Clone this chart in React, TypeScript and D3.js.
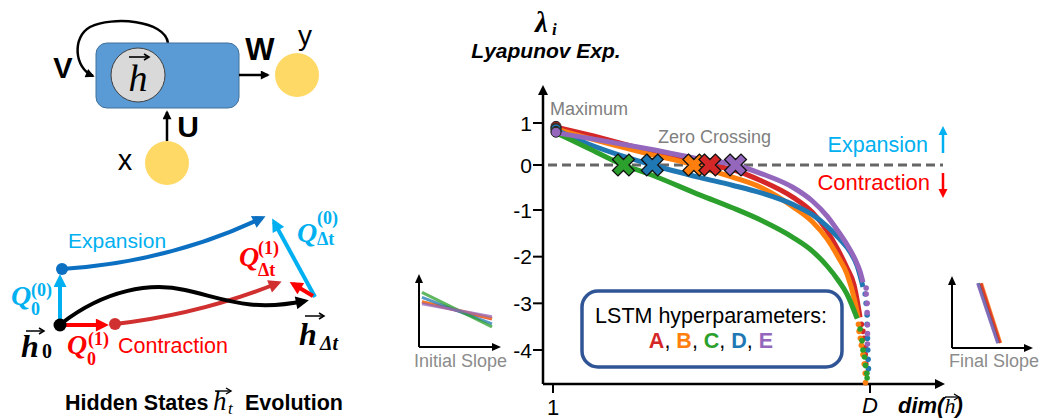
import React from 'react'
import * as d3 from 'd3'

// Lyapunov spectra for the five LSTM hyperparameter sets, [dim, lambda]
const seriesNames = ['A', 'B', 'C', 'D', 'E']
const seriesColors = ['#d62728', '#ff7f0e', '#2ca02c', '#1f77b4', '#9467bd']

const lineA = [[1, 0.92], [12, 0.72], [31, 0.34], [47, 0.07], [50, 0], [57, -0.1], [66, -0.35], [76, -0.72], [82, -1.05], [86.6, -1.45], [90, -1.85], [92.8, -2.24], [95, -2.6], [96.9, -3.3]]
const lineB = [[1, 0.88], [12, 0.64], [31, 0.26], [45, 0], [47, -0.05], [57, -0.27], [66, -0.5], [76, -0.93], [82, -1.25], [86.6, -1.62], [90, -2.0], [92.8, -2.37], [95.3, -2.96], [96.3, -3.3]]
const lineC = [[1, 0.8], [12, 0.4], [23, 0], [31, -0.2], [47, -0.67], [57, -0.95], [66, -1.22], [76, -1.59], [82, -1.88], [86.6, -2.2], [90, -2.5], [92.8, -2.8], [96, -3.33]]
const lineD = [[1, 0.86], [12, 0.5], [32, 0], [47, -0.28], [57, -0.45], [66, -0.62], [76, -0.88], [82, -1.1], [86.6, -1.35], [90.5, -1.62], [93.8, -1.9], [96, -2.2], [97.8, -2.65]]
const lineE = [[1, 0.78], [12, 0.64], [31, 0.38], [47, 0.14], [58, 0], [66, -0.19], [76, -0.5], [82, -0.8], [86.6, -1.13], [90, -1.45], [92.8, -1.74], [95.3, -2.05], [96.9, -2.32], [97.8, -2.55]]

// last exponents, drawn as separate dots
const tailA = [[97.3, -3.45], [97.8, -3.6], [98.1, -3.75], [98.5, -3.95], [98.5, -4.1], [98.7, -4.3], [98.9, -4.5]]
const tailB = [[96.4, -3.45], [96.6, -3.6], [97, -3.75], [97.3, -3.9], [97.8, -4.1], [98.2, -4.3], [98.5, -4.5], [98.6, -4.7]]
const tailC = [[96.9, -3.55], [97.5, -3.8], [97.8, -4.0], [98.3, -4.15], [98.6, -4.33], [99.0, -4.5], [99.1, -4.6]]
const tailD = [[98.5, -2.8], [98.8, -3.0], [99.1, -3.25], [99.1, -3.45], [99.2, -3.75], [99.3, -4.0], [99.4, -4.2], [99.5, -4.4]]
const tailE = [[98.8, -2.67], [98.8, -2.8], [99.1, -3.0], [99.1, -3.2], [99.2, -3.46], [99.2, -3.65], [99.2, -3.87]]

const zeroCrossing = [50, 45, 23, 32, 58]
const yTicks = [1, 0, -1, -2, -3, -4]
const xTicks = [1, 100]
const xTickLabels = ['1', 'D']

// insets: [x0, y0, x1, y1] in unit coordinates
const initialSlope = [[0, 0.625, 1, 0.39], [0, 0.63, 1, 0.4], [0, 0.76, 1, 0.28], [0, 0.69, 1, 0.32], [0, 0.6, 1, 0.42]]
const finalSlope = [[0.36, 0.9, 0.6, 0.07], [0.37, 0.9, 0.61, 0.07], [0.33, 0.9, 0.58, 0.07], [0.325, 0.9, 0.575, 0.07], [0.32, 0.9, 0.57, 0.07]]

const lines = [lineA, lineB, lineC, lineD, lineE]
const tails = [tailA, tailB, tailC, tailD, tailE]
const drawOrder = [0, 1, 3, 2, 4]
const crossOrder = [2, 3, 1, 0, 4]

const SANS = 'Liberation Sans, Arial, sans-serif'
const SERIF = 'Liberation Serif, Times New Roman, serif'
const LBLUE = '#00b0f0'
const DBLUE = '#0b6fc2'
const RED = '#ff0000'
const DRED = '#d0302f'

const markerIds = [['blk', '#000'], ['lb', LBLUE], ['db', DBLUE], ['rd', RED], ['dr', DRED]]

function VecArrow({ x1, x2, y, color = '#000', w = 1.4 }) {
  return (
    <g stroke={color} strokeWidth={w} fill="none">
      <line x1={x1} y1={y} x2={x2} y2={y} />
      <polyline points={`${x2 - 5},${y - 3} ${x2},${y} ${x2 - 5},${y + 3}`} />
    </g>
  )
}

function QLabel({ x, y, sup, sub, color, supX, supY, subX, subY }) {
  return (
    <g fill={color} fontFamily={SERIF} fontWeight="bold">
      <text x={x} y={y} fontSize={28} fontStyle="italic">Q</text>
      <text x={x + supX} y={y + supY} fontSize={18}>{sup}</text>
      <text x={x + subX} y={y + subY} fontSize={18}>{sub}</text>
    </g>
  )
}

export default function App() {
  const x = d3.scaleLinear().domain([1, 100]).range([553, 870])
  const y = d3.scaleLinear().domain([-4, -1, 0, 1]).range([350, 210, 165, 123])
  const line = d3.line<number[]>().x(d => x(d[0])).y(d => y(d[1])).curve(d3.curveMonotoneX)
  const cross = d3.symbol().type(d3.symbolCross).size(300)

  const ix = d3.scaleLinear().domain([0, 1]).range([422, 492])
  const iy = d3.scaleLinear().domain([0, 1]).range([347, 275])
  const fx = d3.scaleLinear().domain([0, 1]).range([952, 1032])
  const fy = d3.scaleLinear().domain([0, 1]).range([348, 276])

  const x0 = 543
  const y0 = 384

  return (
    <svg width={1040} height={419} style={{ position: 'absolute', left: 0, top: 0, background: '#fff' }}>
      <defs>
        {markerIds.map(([id, c]) => (
          <marker key={id} id={'m-' + id} viewBox="0 0 10 10" refX="7" refY="5" markerUnits="userSpaceOnUse" markerWidth="15" markerHeight="13" orient="auto">
            <path d="M0,0 L10,5 L0,10 z" fill={c} />
          </marker>
        ))}
        <marker id="m-thin" viewBox="0 0 10 10" refX="8" refY="5" markerUnits="userSpaceOnUse" markerWidth="10" markerHeight="9" orient="auto">
          <path d="M0,0 L10,5 L0,10 z" fill="#000" />
        </marker>
      </defs>

      {/* RNN cell */}
      <g>
        <path d="M168,43 C165,20 112,16 90,27 C72,37 74,68 93,76" fill="none" stroke="#000" strokeWidth={2.5} markerEnd="url(#m-thin)" />
        <rect x={96} y={43} width={143} height={65} rx={11} fill="#5b9bd5" stroke="#41719c" strokeWidth={1} />
        <circle cx={138} cy={75} r={27} fill="#d9d9d9" stroke="#404040" strokeWidth={1} />
        <text x={138} y={91} textAnchor="middle" fontFamily={SERIF} fontStyle="italic" fontSize={38}>h</text>
        <VecArrow x1={129} x2={149} y={57} w={1.6} />
        <line x1={239} y1={75} x2={268} y2={75} stroke="#000" strokeWidth={2.5} markerEnd="url(#m-thin)" />
        <line x1={167} y1={141} x2={167} y2={112} stroke="#000" strokeWidth={2.5} markerEnd="url(#m-thin)" />
        <circle cx={297} cy={75} r={22} fill="#ffd966" />
        <circle cx={167} cy={163} r={22} fill="#ffd966" />
        <g fontFamily={SANS} textAnchor="middle">
          <text x={63} y={78} fontSize={29} fontWeight="bold">V</text>
          <text x={260} y={60} fontSize={31} fontWeight="bold">W</text>
          <text x={188} y={137} fontSize={30} fontWeight="bold">U</text>
          <text x={305} y={45} fontSize={28}>y</text>
          <text x={125} y={170} fontSize={29}>x</text>
        </g>
      </g>

      {/* hidden state evolution */}
      <g fill="none" strokeLinecap="butt">
        <path d="M62,269 Q170,262 262,218" stroke={DBLUE} strokeWidth={4} markerEnd="url(#m-db)" />
        <line x1={60} y1={320} x2={60} y2={278} stroke={LBLUE} strokeWidth={4} markerEnd="url(#m-lb)" />
        <line x1={315} y1={297} x2={274} y2={222} stroke={LBLUE} strokeWidth={4} markerEnd="url(#m-lb)" />
        <path d="M115,324 Q201,314 278,283" stroke={DRED} strokeWidth={4} markerEnd="url(#m-dr)" />
        <line x1={62} y1={325} x2={105} y2={325} stroke={RED} strokeWidth={4} markerEnd="url(#m-rd)" />
        <path d="M62,323 C105,290 150,282 185,290 C225,299 250,312 305,301" stroke="#000" strokeWidth={4} markerEnd="url(#m-blk)" />
        <line x1={313} y1={296} x2={293} y2={284} stroke={RED} strokeWidth={4} markerEnd="url(#m-rd)" />
      </g>
      <circle cx={60} cy={325} r={6.5} fill="#000" />
      <circle cx={62} cy={269} r={6} fill={DBLUE} />
      <circle cx={115} cy={324} r={6} fill={DRED} />
      <text x={68} y={248} fontFamily={SANS} fontSize={21} fill={LBLUE}>Expansion</text>
      <text x={118} y={353} fontFamily={SANS} fontSize={21.5} fill={RED}>Contraction</text>
      <QLabel x={11} y={305} sup="(0)" sub="0" color={LBLUE} supX={20} supY={-9} subX={20} subY={10} />
      <QLabel x={67} y={354} sup="(1)" sub="0" color={RED} supX={21} supY={-9} subX={20} subY={11} />
      <QLabel x={239} y={266} sup="(1)" sub="Δt" color={RED} supX={19} supY={-12} subX={19} subY={10} />
      <QLabel x={297} y={242} sup="(0)" sub="Δt" color={LBLUE} supX={20} supY={-18} subX={20} subY={3} />
      <g fontFamily={SERIF} fontWeight="bold" fontStyle="italic">
        <text x={21} y={357} fontSize={32}>h</text>
        <text x={42} y={358} fontSize={20} fontStyle="normal">0</text>
        <text x={299} y={345} fontSize={32}>h</text>
        <text x={320} y={350} fontSize={20}>Δt</text>
      </g>
      <VecArrow x1={26} x2={44} y={331} w={1.5} />
      <VecArrow x1={305} x2={324} y={316} w={1.5} />
      <g fontFamily={SANS} fontSize={21.5} fontWeight="bold">
        <text x={65} y={410}>Hidden States</text>
        <text x={245} y={410}>Evolution</text>
      </g>
      <text x={213} y={410} fontFamily={SERIF} fontStyle="italic" fontSize={27}>h</text>
      <text x={228} y={414} fontFamily={SERIF} fontStyle="italic" fontSize={17}>t</text>
      <VecArrow x1={215} x2={231} y={391} w={1.4} />

      {/* main axes */}
      <g stroke="#000" strokeWidth={2.5}>
        <line x1={x0} y1={y0} x2={x0} y2={92} />
        <line x1={x0} y1={y0} x2={938} y2={y0} />
      </g>
      <path d={`M${x0 - 5},95 L${x0},85 L${x0 + 5},95 z`} fill="#000" />
      <path d={`M935,${y0 - 5} L945,${y0} L935,${y0 + 5} z`} fill="#000" />
      {yTicks.map(t => (
        <g key={t}>
          <line x1={533} x2={x0} y1={y(t)} y2={y(t)} stroke="#000" strokeWidth={2} />
          <text x={532} y={y(t)} dy="0.36em" textAnchor="end" fontFamily={SANS} fontSize={21}>{t}</text>
        </g>
      ))}
      {xTicks.map((t, i) => (
        <g key={t}>
          <line x1={x(t)} x2={x(t)} y1={y0} y2={y0 + 9} stroke="#000" strokeWidth={2} />
          <text x={x(t)} y={i === 0 ? 415 : 413} textAnchor="middle" fontFamily={SANS} fontStyle={i === 0 ? 'normal' : 'italic'} fontSize={22}>{xTickLabels[i]}</text>
        </g>
      ))}
      <text x={898} y={413} fontFamily={SANS} fontWeight="bold" fontStyle="italic" fontSize={22}>
        dim(<tspan fontFamily={SERIF} fontWeight="normal">h</tspan>)
      </text>
      <VecArrow x1={945} x2={959} y={397} w={1.3} />

      <text x={535} y={32} fontFamily={SERIF} fontWeight="bold" fontStyle="italic" fontSize={29}>λ</text>
      <text x={552} y={35} fontFamily={SERIF} fontWeight="bold" fontStyle="italic" fontSize={17}>i</text>
      <text x={546} y={58} textAnchor="middle" fontFamily={SANS} fontWeight="bold" fontStyle="italic" fontSize={21}>Lyapunov Exp.</text>

      <line x1={548} x2={943} y1={y(0)} y2={y(0)} stroke="#666" strokeWidth={3} strokeDasharray="9,5" />
      <text x={550} y={115} fontFamily={SANS} fontSize={18} fill="#808080">Maximum</text>
      <text x={658} y={143} fontFamily={SANS} fontSize={18} fill="#808080">Zero Crossing</text>
      <text x={928} y={152} textAnchor="end" fontFamily={SANS} fontSize={21.5} fill={LBLUE}>Expansion</text>
      <text x={930} y={190} textAnchor="end" fontFamily={SANS} fontSize={22} fill={RED}>Contraction</text>
      <line x1={943} y1={153} x2={943} y2={134} stroke={LBLUE} strokeWidth={2.5} />
      <path d="M938.5,135 L943,126 L947.5,135 z" fill={LBLUE} />
      <line x1={943} y1={173} x2={943} y2={190} stroke={RED} strokeWidth={2.5} />
      <path d="M938.5,189 L943,198 L947.5,189 z" fill={RED} />

      {/* spectra */}
      {drawOrder.map(i => (
        <path key={'l' + i} d={line(lines[i]) || ''} fill="none" stroke={seriesColors[i]} strokeWidth={5} strokeLinejoin="round" />
      ))}
      {drawOrder.map(i => (
        <g key={'t' + i} fill={seriesColors[i]}>
          {tails[i].map((p, k) => <circle key={k} cx={x(p[0])} cy={y(p[1])} r={2.8} />)}
        </g>
      ))}
      {drawOrder.map(i => (
        <circle key={'s' + i} cx={x(lines[i][0][0]) + 3} cy={y(lines[i][0][1])} r={5} fill={seriesColors[i]} stroke="#222" strokeWidth={1} />
      ))}
      {crossOrder.map(i => (
        <path key={'c' + i} d={cross() || ''} transform={`translate(${x(zeroCrossing[i])},${y(0)}) rotate(45)`} fill={seriesColors[i]} stroke="#111" strokeWidth={1.3} />
      ))}

      {/* legend box */}
      <rect x={582} y={291} width={260} height={76} rx={16} fill="#fff" stroke="#2f5597" strokeWidth={3.5} />
      <text x={711} y={323} textAnchor="middle" fontFamily={SANS} fontSize={21.5}>LSTM hyperparameters:</text>
      <text x={711} y={348} textAnchor="middle" fontFamily={SANS} fontSize={21.5}>
        {seriesNames.map((n, i) => (
          <React.Fragment key={n}>
            <tspan fill={seriesColors[i]} fontWeight="bold">{n}</tspan>
            {i < seriesNames.length - 1 ? <tspan>, </tspan> : null}
          </React.Fragment>
        ))}
      </text>

      {/* initial slope inset */}
      <g stroke="#000" strokeWidth={2}>
        <line x1={419} y1={347} x2={419} y2={282} />
        <line x1={419} y1={347} x2={493} y2={347} />
      </g>
      <path d="M415,283 L419,274 L423,283 z" fill="#000" />
      <path d="M492,343 L501,347 L492,351 z" fill="#000" />
      {drawOrder.map(i => (
        <line key={'i' + i} x1={ix(initialSlope[i][0])} y1={iy(initialSlope[i][1])} x2={ix(initialSlope[i][2])} y2={iy(initialSlope[i][3])} stroke={seriesColors[i]} strokeWidth={3} opacity={0.75} />
      ))}
      <text x={414} y={367} fontFamily={SANS} fontSize={18} fill="#8c8c8c">Initial Slope</text>

      {/* final slope inset */}
      <g stroke="#000" strokeWidth={2}>
        <line x1={952} y1={348} x2={952} y2={284} />
        <line x1={952} y1={348} x2={1025} y2={348} />
      </g>
      <path d="M948,285 L952,276 L956,285 z" fill="#000" />
      <path d="M1024,344 L1033,348 L1024,352 z" fill="#000" />
      {[2, 1, 0, 3, 4].map(i => (
        <line key={'f' + i} x1={fx(finalSlope[i][0])} y1={fy(finalSlope[i][1])} x2={fx(finalSlope[i][2])} y2={fy(finalSlope[i][3])} stroke={seriesColors[i]} strokeWidth={3} opacity={0.8} />
      ))}
      <text x={949} y={367} fontFamily={SANS} fontSize={18} fill="#8c8c8c">Final Slope</text>
    </svg>
  )
}
